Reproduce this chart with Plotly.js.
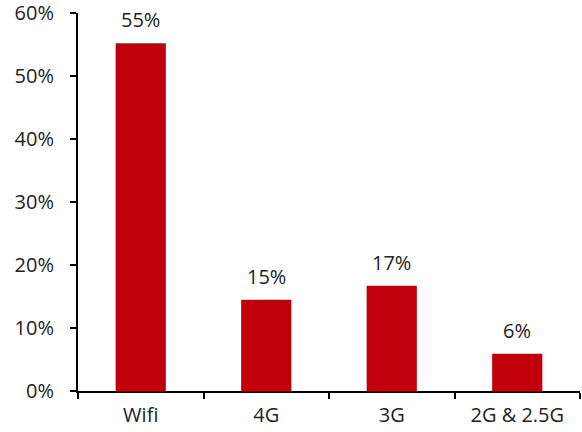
<!DOCTYPE html>
<html>
<head>
<meta charset="utf-8">
<script src="https://cdn.plot.ly/plotly-3.0.1.min.js"></script>
<style>html,body{margin:0;padding:0;background:#fff;}#chart{width:582px;height:432px;}</style>
</head>
<body>
<div id="chart"></div>
<script>
const categories = ["Wifi", "4G", "3G", "2G & 2.5G"];
const shares = [55.2, 14.5, 16.7, 5.9];
const shareLabels = ["55%", "15%", "17%", "6%"];
const yTickValues = [0, 10, 20, 30, 40, 50, 60];
const yTickLabels = ["0%", "10%", "20%", "30%", "40%", "50%", "60%"];

const fontFamily = "'Open Sans', 'Noto Sans', sans-serif";
const textColor = "#222";

const trace = {
  type: "bar",
  x: categories,
  y: shares,
  width: 0.4,
  marker: {color: "#C0000B", line: {width: 0}},
  hoverinfo: "none"
};

const annotations = categories.map((c, i) => ({
  x: c, y: shares[i], xref: "x", yref: "y",
  text: shareLabels[i], showarrow: false,
  yanchor: "bottom", yshift: 8,
  font: {family: fontFamily, size: 20, color: textColor}
}));

const layout = {
  width: 582, height: 432,
  margin: {l: 78, r: 2, t: 13, b: 41, pad: 0},
  paper_bgcolor: "#fff", plot_bgcolor: "#fff",
  showlegend: false,
  font: {family: fontFamily, size: 20, color: textColor},
  bargap: 0.6,
  xaxis: {
    type: "category",
    range: [-0.5, 3.5],
    showline: true, linecolor: "#000", linewidth: 2,
    ticks: "outside", tickson: "boundaries", ticklen: 6, tickwidth: 2, tickcolor: "#000",
    showgrid: false, zeroline: false,
    tickfont: {family: fontFamily, size: 20, color: textColor},
    ticklabelstandoff: 5,
    ticklabeloverflow: "allow"
  },
  yaxis: {
    range: [0, 60],
    tickmode: "array",
    tickvals: yTickValues, ticktext: yTickLabels,
    showline: true, linecolor: "#000", linewidth: 2,
    ticks: "outside", ticklen: 6, tickwidth: 2, tickcolor: "#000",
    showgrid: false, zeroline: false,
    tickfont: {family: fontFamily, size: 20, color: textColor},
    ticklabelstandoff: 12,
    ticklabeloverflow: "allow"
  },
  annotations: annotations
};

Plotly.newPlot("chart", [trace], layout, {displayModeBar: false, staticPlot: true});
</script>
</body>
</html>
